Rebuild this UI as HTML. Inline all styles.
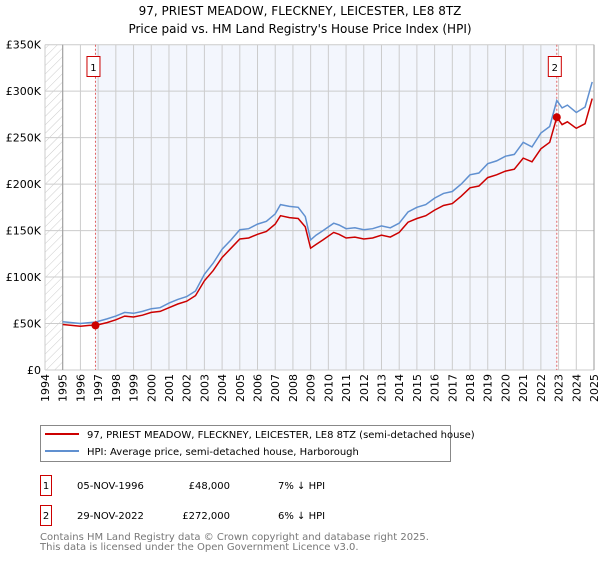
<!DOCTYPE html>
<html><head><meta charset="utf-8"><style>
body{margin:0;background:#fff;font-family:"DejaVu Sans","Liberation Sans",sans-serif;}
svg text{font-family:"DejaVu Sans","Liberation Sans",sans-serif;}
</style></head><body>
<svg id="c" width="600" height="560" xmlns="http://www.w3.org/2000/svg">
<defs><pattern id="hatch" width="6" height="6" patternUnits="userSpaceOnUse" patternTransform="rotate(45)"><line x1="0" y1="0" x2="0" y2="6" stroke="#ccc" stroke-width="1"/></pattern></defs>
<text x="300" y="15" text-anchor="middle" font-size="12">97, PRIEST MEADOW, FLECKNEY, LEICESTER, LE8 8TZ</text>
<text x="300" y="33" text-anchor="middle" font-size="12">Price paid vs. HM Land Registry's House Price Index (HPI)</text>
<g id="plot"></g>
<g>
<rect x="40.5" y="425.5" width="410" height="36" fill="#fff" stroke="#888"/>
<line x1="45" y1="434" x2="79" y2="434" stroke="#cc0000" stroke-width="2"/>
<text x="87" y="438" font-size="10">97, PRIEST MEADOW, FLECKNEY, LEICESTER, LE8 8TZ (semi-detached house)</text>
<line x1="45" y1="451" x2="79" y2="451" stroke="#6090d0" stroke-width="2"/>
<text x="87" y="455" font-size="10">HPI: Average price, semi-detached house, Harborough</text>
</g>
<g font-size="10">
<rect x="40.5" y="475.5" width="11" height="20" fill="#fff" stroke="#cc0000"/>
<text x="46" y="489" text-anchor="middle">1</text>
<text x="77" y="489">05-NOV-1996</text><text x="230" y="489" text-anchor="end">£48,000</text><text x="278" y="489">7% ↓ HPI</text>
<rect x="40.5" y="505.5" width="11" height="20" fill="#fff" stroke="#cc0000"/>
<text x="46" y="519" text-anchor="middle">2</text>
<text x="77" y="519">29-NOV-2022</text><text x="230" y="519" text-anchor="end">£272,000</text><text x="278" y="519">6% ↓ HPI</text>
</g>
<g font-size="10" fill="#777">
<text x="40" y="540">Contains HM Land Registry data © Crown copyright and database right 2025.</text>
<text x="40" y="550">This data is licensed under the Open Government Licence v3.0.</text>
</g>
</svg>
<script>
const hpiYears=[1995,1995.5,1996,1996.5,1996.85,1997.5,1998,1998.5,1999,1999.5,2000,2000.5,2001,2001.5,2002,2002.5,2003,2003.5,2004,2004.5,2005,2005.5,2006,2006.5,2007,2007.3,2007.8,2008.3,2008.7,2009.0,2009.3,2009.7,2010.3,2010.6,2011,2011.5,2012,2012.5,2013,2013.5,2014,2014.5,2015,2015.5,2016,2016.5,2017,2017.5,2018,2018.5,2019,2019.5,2020,2020.5,2021,2021.5,2022,2022.5,2022.9,2023.2,2023.5,2024,2024.5,2024.9];
const hpiValues=[52,51,50,51,51.5,55,58,62,61,63,66,67,72,76,79,85,103,115,130,140,151,152,157,160,168,178,176,175,165,140,145,150,158,156,152,153,151,152,155,153,158,170,175,178,185,190,192,200,210,212,222,225,230,232,245,240,255,262,290,282,285,277,283,310];
const priceValues=[49,48,47,48,48,51,54,58,57,59,62,63,67,71,74,80,96,107,121,131,141,142,146,149,157,166,164,163,154,131,135,140,148,146,142,143,141,142,145,143,148,159,163,166,172,177,179,187,196,198,207,210,214,216,228,224,238,245,272,264,267,260,265,292];
const sales=[[1996.85,48,"1"],[2022.9,272,"2"]];
const yTicks=[0,50,100,150,200,250,300,350];
const yLabels=["£0","£50K","£100K","£150K","£200K","£250K","£300K","£350K"];
const x0=45,x1=594,y0=370,y1=44.7;
const X=t=>x0+(t-1994)/31*(x1-x0);
const Y=v=>y0-v/350*(y0-y1);
const NS="http://www.w3.org/2000/svg";
const g=document.getElementById('plot');
function mk(tag,at,parent){const e=document.createElementNS(NS,tag);for(const k in at)e.setAttribute(k,at[k]);(parent||g).appendChild(e);return e;}
let r=mk('rect',{x:x0,y:y1,width:x1-x0,height:y0-y1,fill:'#fff'});


r=mk('rect',{x:x0,y:y1,width:X(1995)-x0,height:y0-y1,fill:'url(#hatch)'});


r=mk('rect',{x:X(sales[0][0]),y:y1,width:X(sales[1][0])-X(sales[0][0]),height:y0-y1,fill:'#f3f6fd'});


for(let yr=1994;yr<=2025;yr++){
 const l=mk('line',{x1:X(yr),x2:X(yr),y1:y1,y2:y0,stroke:'#ccc','stroke-width':1});
 
 
 const t=mk('text',{transform:`translate(${X(yr)+4},${y0+32}) rotate(-90)`,'font-size':11});
 t.textContent=yr;
 
 
}
yTicks.forEach((v,i)=>{
 const l=mk('line',{x1:x0,x2:x1,y1:Y(v),y2:Y(v),stroke:'#ccc','stroke-width':1});
 
 
 const t=mk('text',{x:x0-4,y:Y(v)+4,'text-anchor':'end','font-size':11});
 t.textContent=yLabels[i];
 
 
});
let ax=mk('line',{x1:X(1995),x2:X(1995),y1:y1,y2:y0,stroke:'#999'});


ax=mk('line',{x1:x1,x2:x1,y1:y1,y2:y0,stroke:'#999'});


sales.forEach(s=>{
 const l=mk('line',{x1:X(s[0]),x2:X(s[0]),y1:y1,y2:y0,stroke:'#e06060','stroke-dasharray':'2,2'});
 
 
 const b=mk('rect',{x:X(s[0])-8.5,y:56.5,width:13,height:20,fill:'#fff',stroke:'#cc0000'});
 
 
 const t=mk('text',{x:X(s[0])-2,y:71,'text-anchor':'middle','font-size':10});
 t.textContent=s[2];
 
 
});
let p=mk('path',{d:hpiYears.map((t,i)=>(i?'L':'M')+X(t).toFixed(1)+','+Y(hpiValues[i]).toFixed(1)).join(''),fill:'none',stroke:'#6090d0','stroke-width':1.5});


p=mk('path',{d:hpiYears.map((t,i)=>(i?'L':'M')+X(t).toFixed(1)+','+Y(priceValues[i]).toFixed(1)).join(''),fill:'none',stroke:'#cc0000','stroke-width':1.5});


sales.forEach(s=>{
 const c=mk('circle',{cx:X(s[0]),cy:Y(s[1]),r:4,fill:'#cc0000'});
 
 
});
</script>
</body></html>
